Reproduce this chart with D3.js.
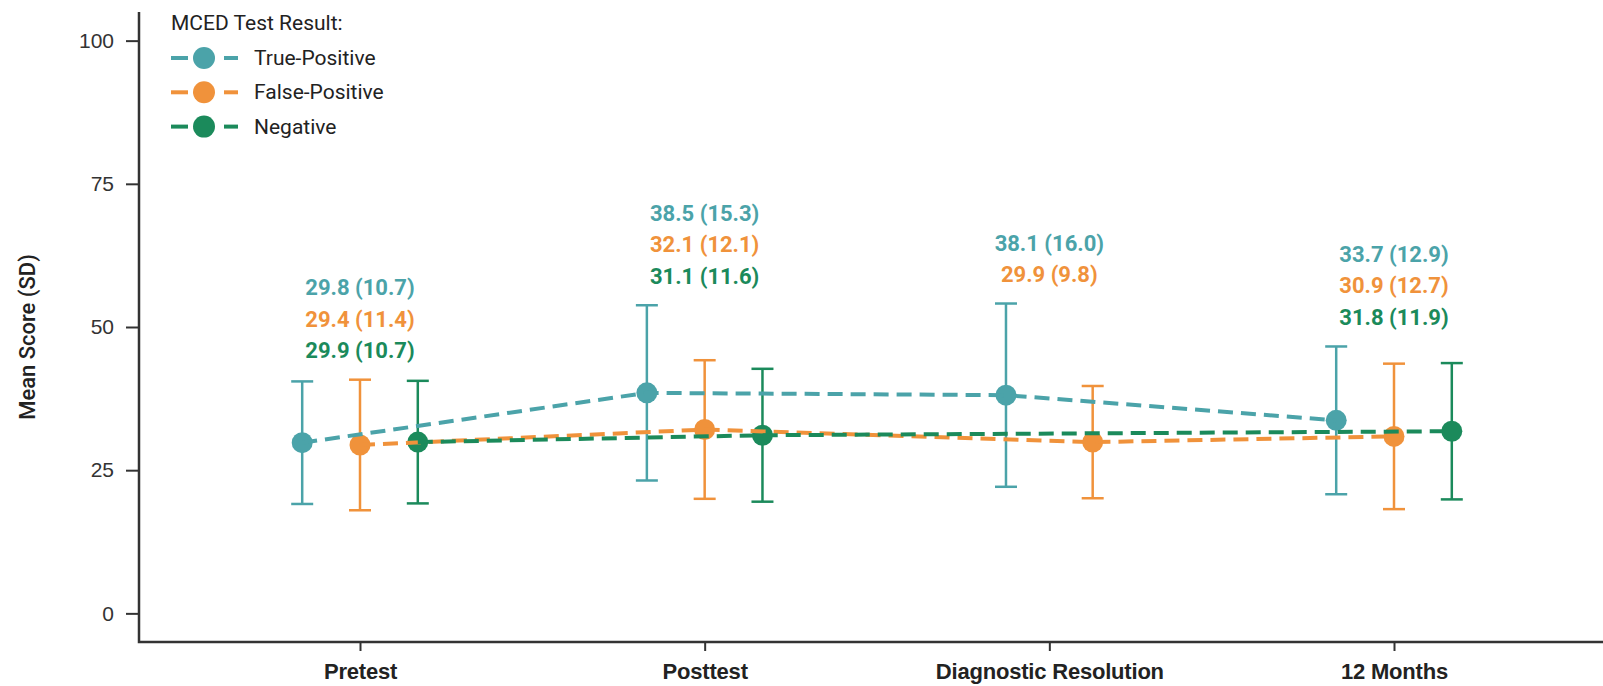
<!DOCTYPE html>
<html>
<head>
<meta charset="utf-8">
<script src="https://cdn.jsdelivr.net/npm/d3@7"></script>
<style>
  html, body { margin: 0; padding: 0; background: #fff; }
  svg { display: block; font-family: Roboto, "Liberation Sans", sans-serif; }
</style>
</head>
<body>
<svg id="chart" width="1603" height="686"></svg>
<script>
"use strict";

// time points on the x axis
const timepoints = ["Pretest", "Posttest", "Diagnostic Resolution", "12 Months"];
// MCED result groups
const groups = ["True-Positive", "False-Positive", "Negative"];
const groupColors = ["#4ba3a9", "#f0923b", "#1b8a5b"];

// mean score and SD per time point (null = not measured)
const tpMean = [29.8, 38.5, 38.1, 33.7];
const tpSD = [10.7, 15.3, 16.0, 12.9];
const fpMean = [29.4, 32.1, 29.9, 30.9];
const fpSD = [11.4, 12.1, 9.8, 12.7];
const negMean = [29.9, 31.1, null, 31.8];
const negSD = [10.7, 11.6, null, 11.9];

const yTicks = [0, 25, 50, 75, 100];

const means = [tpMean, fpMean, negMean];
const sds = [tpSD, fpSD, negSD];

const width = 1603;
const margin = { left: 139, top: 12, bottom: 642 };

const svg = d3.select("#chart");

const x = d3.scalePoint()
  .domain(timepoints)
  .range([360, 1394])
;

const y = d3.scaleLinear()
  .domain([-5, 105])
  .range([margin.bottom, margin.top])
;

// rows: one per group per time point that has data
const rows = [];
timepoints.forEach((t, ti) => {
  const present = groups.filter((g, gi) => means[gi][ti] !== null);
  const dodge = d3.scalePoint()
    .domain(present)
    .range([-86.7, 86.7])
    .padding(0.5)
  ;
  present.forEach(g => {
    const gi = groups.indexOf(g);
    rows.push({
      time: t, ti: ti, group: g, gi: gi,
      mean: means[gi][ti], sd: sds[gi][ti],
      px: x(t) + dodge(g)
    });
  });
});

// axes
const yAxis = d3.axisLeft(y)
  .tickValues(yTicks)
  .tickSize(13)
  .tickPadding(12)
;
const yG = svg.append("g")
  .attr("transform", `translate(${margin.left},0)`)
  .call(yAxis)
;
yG.select(".domain").remove();
yG.selectAll(".tick line").attr("stroke", "#333").attr("stroke-width", 2);
yG.selectAll(".tick text")
  .attr("fill", "#333")
  .style("font-size", "21px")
;

const xAxis = d3.axisBottom(x)
  .tickSize(9)
  .tickPadding(12)
;
const xG = svg.append("g")
  .attr("transform", `translate(0,${margin.bottom})`)
  .call(xAxis)
;
xG.select(".domain").remove();
xG.selectAll(".tick line").attr("stroke", "#333").attr("stroke-width", 2);
xG.selectAll(".tick text")
  .attr("fill", "#222")
  .style("font-size", "22px")
  .style("font-weight", "700")
  .style("letter-spacing", "-0.2px")
;

svg.append("path")
  .attr("d", `M${margin.left},${margin.top}V${margin.bottom}H${width}`)
  .attr("fill", "none")
  .attr("stroke", "#333")
  .attr("stroke-width", 2.5)
;

svg.append("text")
  .attr("transform", "translate(27,337) rotate(-90)")
  .attr("text-anchor", "middle")
  .attr("dominant-baseline", "central")
  .attr("fill", "#222")
  .style("font-size", "22px")
  .style("font-weight", "500")
  .text("Mean Score (SD)")
;

// error bars
const capW = 22;
const eb = svg.append("g").selectAll("g")
  .data(rows)
  .enter()
  .append("g")
  .attr("stroke", d => groupColors[d.gi])
  .attr("stroke-width", 2.5)
;
eb.append("line")
  .attr("x1", d => d.px).attr("x2", d => d.px)
  .attr("y1", d => y(d.mean - d.sd)).attr("y2", d => y(d.mean + d.sd))
;
eb.append("line")
  .attr("x1", d => d.px - capW / 2).attr("x2", d => d.px + capW / 2)
  .attr("y1", d => y(d.mean + d.sd)).attr("y2", d => y(d.mean + d.sd))
;
eb.append("line")
  .attr("x1", d => d.px - capW / 2).attr("x2", d => d.px + capW / 2)
  .attr("y1", d => y(d.mean - d.sd)).attr("y2", d => y(d.mean - d.sd))
;

// markers
svg.append("g").selectAll("circle")
  .data(rows)
  .enter()
  .append("circle")
  .attr("cx", d => d.px)
  .attr("cy", d => y(d.mean))
  .attr("r", 10.5)
  .attr("fill", d => groupColors[d.gi])
;

// dashed connecting lines, drawn over the markers
const line = d3.line()
  .x(d => d.px)
  .y(d => y(d.mean))
;
groups.forEach((g, gi) => {
  svg.append("path")
    .datum(rows.filter(r => r.gi === gi))
    .attr("d", line)
    .attr("fill", "none")
    .attr("stroke", groupColors[gi])
    .attr("stroke-width", 4)
    .attr("stroke-dasharray", "15,8")
  ;
});

// value labels above each time point
const fmt = d3.format(".1f");
timepoints.forEach((t, ti) => {
  const present = rows.filter(r => r.ti === ti);
  const top = d3.max(present, r => r.mean + r.sd);
  const bottomY = y(top) - 29;
  present.forEach((r, i) => {
    svg.append("text")
      .attr("x", x(t))
      .attr("y", bottomY - (present.length - 1 - i) * 31.5)
      .attr("text-anchor", "middle")
      .attr("dominant-baseline", "central")
      .attr("fill", groupColors[r.gi])
      .style("font-size", "22px")
      .style("font-weight", "700")
      .text(`${fmt(r.mean)} (${fmt(r.sd)})`)
    ;
  });
});

// legend
const legend = svg.append("g").attr("transform", "translate(171,0)");
legend.append("text")
  .attr("x", 0)
  .attr("y", 23)
  .attr("dominant-baseline", "central")
  .attr("fill", "#222")
  .style("font-size", "21px")
  .text("MCED Test Result:")
;
const item = legend.selectAll("g.item")
  .data(groups)
  .enter()
  .append("g")
  .attr("class", "item")
  .attr("transform", (d, i) => `translate(0,${58 + i * 34.3})`)
;
item.append("line")
  .attr("x1", 0).attr("x2", 17)
  .attr("stroke", (d, i) => groupColors[i])
  .attr("stroke-width", 4)
;
item.append("line")
  .attr("x1", 53).attr("x2", 67)
  .attr("stroke", (d, i) => groupColors[i])
  .attr("stroke-width", 4)
;
item.append("circle")
  .attr("cx", 33)
  .attr("r", 11)
  .attr("fill", (d, i) => groupColors[i])
;
item.append("text")
  .attr("x", 83)
  .attr("dominant-baseline", "central")
  .attr("fill", "#222")
  .style("font-size", "21px")
  .text(d => d)
;
</script>
</body>
</html>
